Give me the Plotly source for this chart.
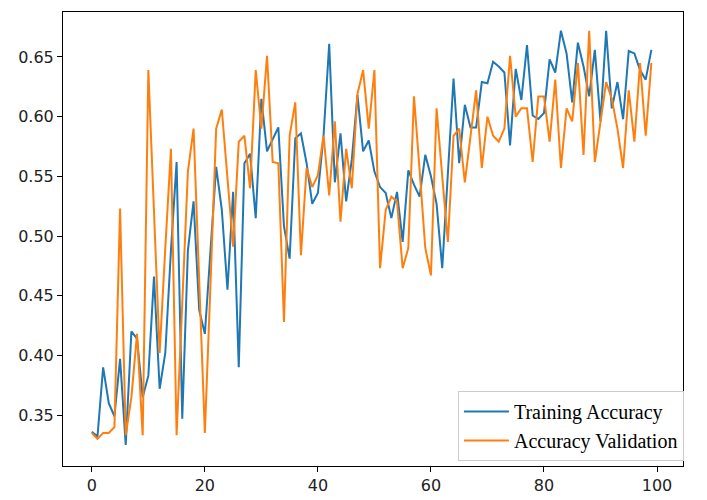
import plotly.graph_objects as go

epochs = list(range(100))

training_accuracy = [
    0.336, 0.332, 0.390, 0.360, 0.349, 0.397, 0.325, 0.420, 0.414, 0.365,
    0.383, 0.466, 0.372, 0.402, 0.488, 0.562, 0.347, 0.488, 0.529, 0.438,
    0.418, 0.485, 0.558, 0.522, 0.455, 0.537, 0.390, 0.561, 0.569, 0.515,
    0.615, 0.571, 0.581, 0.591, 0.508, 0.481, 0.582, 0.586, 0.561, 0.527,
    0.536, 0.584, 0.661, 0.545, 0.586, 0.529, 0.564, 0.618, 0.571, 0.580,
    0.554, 0.541, 0.536, 0.515, 0.537, 0.495, 0.555, 0.543, 0.533, 0.568,
    0.550, 0.527, 0.473, 0.552, 0.632, 0.561, 0.610, 0.591, 0.591, 0.629,
    0.628, 0.646, 0.642, 0.637, 0.576, 0.640, 0.614, 0.660, 0.601, 0.598,
    0.603, 0.648, 0.637, 0.672, 0.653, 0.612, 0.662, 0.642, 0.617, 0.656,
    0.596, 0.672, 0.607, 0.629, 0.598, 0.655, 0.653, 0.639, 0.631, 0.656,
]

validation_accuracy = [
    0.335, 0.330, 0.335, 0.335, 0.340, 0.523, 0.333, 0.365, 0.418, 0.333,
    0.639, 0.520, 0.402, 0.490, 0.573, 0.333, 0.441, 0.554, 0.590, 0.460,
    0.335, 0.460, 0.590, 0.606, 0.550, 0.491, 0.579, 0.584, 0.540, 0.639,
    0.590, 0.651, 0.562, 0.561, 0.428, 0.584, 0.612, 0.484, 0.557, 0.541,
    0.551, 0.584, 0.534, 0.596, 0.512, 0.573, 0.540, 0.619, 0.639, 0.590,
    0.639, 0.473, 0.522, 0.533, 0.529, 0.473, 0.490, 0.617, 0.555, 0.490,
    0.467, 0.607, 0.550, 0.495, 0.584, 0.590, 0.545, 0.586, 0.622, 0.557,
    0.600, 0.584, 0.579, 0.590, 0.651, 0.600, 0.607, 0.607, 0.562, 0.617,
    0.617, 0.579, 0.631, 0.557, 0.607, 0.596, 0.645, 0.568, 0.672, 0.562,
    0.597, 0.629, 0.615, 0.590, 0.557, 0.622, 0.579, 0.645, 0.584, 0.645,
]

x_ticks = [0, 20, 40, 60, 80, 100]
y_ticks = [0.35, 0.40, 0.45, 0.50, 0.55, 0.60, 0.65]
y_tick_labels = ["0.35", "0.40", "0.45", "0.50", "0.55", "0.60", "0.65"]

fig = go.Figure()
fig.add_trace(go.Scatter(x=epochs, y=training_accuracy, mode="lines",
                         name="Training Accuracy",
                         line=dict(color="#1f77b4", width=2)))
fig.add_trace(go.Scatter(x=epochs, y=validation_accuracy, mode="lines",
                         name="Accuracy Validation",
                         line=dict(color="#ff7f0e", width=2)))

axis_common = dict(
    showline=True, linecolor="black", linewidth=1, mirror=True,
    ticks="outside", ticklen=5, tickwidth=1, tickcolor="black",
    showgrid=False, zeroline=False, automargin=False,
    tickfont=dict(family="DejaVu Sans", size=16, color="#222222"),
)

# The page body adds an 8px margin, so the figure is sized to fit the window.
fig.update_layout(
    width=699, height=492,
    margin=dict(l=55, r=24, t=4, b=34, autoexpand=False),
    paper_bgcolor="white", plot_bgcolor="white",
    xaxis=dict(range=[-5.1, 104.6], tickvals=x_ticks, **axis_common),
    yaxis=dict(range=[0.3073, 0.6877], tickvals=y_ticks, ticktext=y_tick_labels,
               **axis_common),
    legend=dict(
        x=0.637, y=0.165, xanchor="left", yanchor="top",
        bgcolor="rgba(255,255,255,0.9)", bordercolor="#cccccc", borderwidth=1,
        font=dict(family="Liberation Serif", size=20, color="black"),
        itemwidth=45, tracegroupgap=0,
    ),
    showlegend=True,
)

fig.write_html("out.html")
